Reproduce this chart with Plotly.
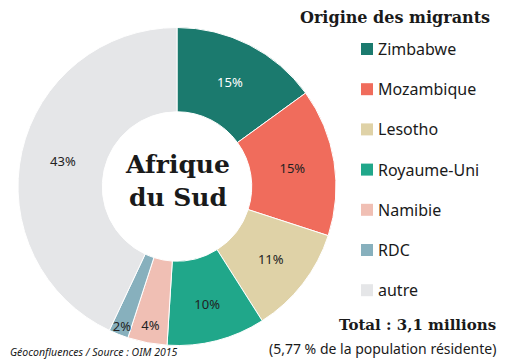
import plotly.graph_objects as go

labels = ["Zimbabwe", "Mozambique", "Lesotho", "Royaume-Uni", "Namibie", "RDC", "autre"]
values = [15, 15, 11, 10, 4, 2, 43]
colors = ["#1b7a6e", "#f06c5c", "#dfd2a7", "#20a78a", "#f0bfb4", "#87b0bd", "#e5e6e8"]
text_colors = ["white", "#222222", "#222222", "#222222", "#222222", "#222222", "#222222"]

W, H = 505, 362

fig = go.Figure()
fig.add_trace(go.Pie(
    labels=labels, values=values, sort=False, direction="clockwise", rotation=0,
    hole=0.47,
    marker=dict(colors=colors, line=dict(color="white", width=1)),
    texttemplate="%{value}%", textposition="inside", insidetextorientation="horizontal",
    textfont=dict(family="Noto Sans", size=13, color=text_colors),
    domain=dict(x=[18 / W, 336 / W], y=[1 - 346 / H, 1 - 27 / H]),
    showlegend=False, hoverinfo="label+percent",
))

annotations = []
shapes = []
# center label
annotations.append(dict(x=177 / W, y=1 - 181 / H, xref="paper", yref="paper",
                        text="<b>Afrique<br>du Sud</b>", showarrow=False,
                        font=dict(family="DejaVu Serif", size=25, color="#1a1a1a"),
                        xanchor="center", yanchor="middle"))
# title
annotations.append(dict(x=492 / W, y=1 - 18 / H, xref="paper", yref="paper",
                        text="<b>Origine des migrants</b>", showarrow=False,
                        font=dict(family="DejaVu Serif", size=16, color="#1a1a1a"),
                        xanchor="right", yanchor="middle"))
# legend
for i, (lab, col) in enumerate(zip(labels, colors)):
    yc = 49 + 40.2 * i
    shapes.append(dict(type="rect", xref="paper", yref="paper",
                       x0=361 / W, x1=373 / W, y0=1 - (yc + 6) / H, y1=1 - (yc - 6) / H,
                       fillcolor=col, line=dict(width=0)))
    annotations.append(dict(x=376 / W, y=1 - yc / H, xref="paper", yref="paper",
                            text=lab, showarrow=False,
                            font=dict(family="Noto Sans", size=16, color="#1a1a1a"),
                            xanchor="left", yanchor="middle"))
# totals
annotations.append(dict(x=498 / W, y=1 - 325 / H, xref="paper", yref="paper",
                        text="<b>Total : 3,1 millions</b>", showarrow=False,
                        font=dict(family="DejaVu Serif", size=15, color="#1a1a1a"),
                        xanchor="right", yanchor="middle"))
annotations.append(dict(x=498 / W, y=1 - 348 / H, xref="paper", yref="paper",
                        text="(5,77 % de la population résidente)", showarrow=False,
                        font=dict(family="Noto Sans", size=14, color="#1a1a1a"),
                        xanchor="right", yanchor="middle"))
annotations.append(dict(x=8 / W, y=1 - 352 / H, xref="paper", yref="paper",
                        text="<i>Géoconfluences / Source : OIM 2015</i>", showarrow=False,
                        font=dict(family="Noto Sans", size=10.5, color="#1a1a1a"),
                        xanchor="left", yanchor="middle"))

fig.update_layout(width=W, height=H, margin=dict(l=0, r=0, t=0, b=0),
                  paper_bgcolor="white", plot_bgcolor="white",
                  uniformtext=dict(minsize=13, mode="show"),
                  annotations=annotations, shapes=shapes)

fig.write_html("out.html", config={"displayModeBar": False},
               post_script="document.body.style.margin='0';document.body.style.overflow='hidden';")
